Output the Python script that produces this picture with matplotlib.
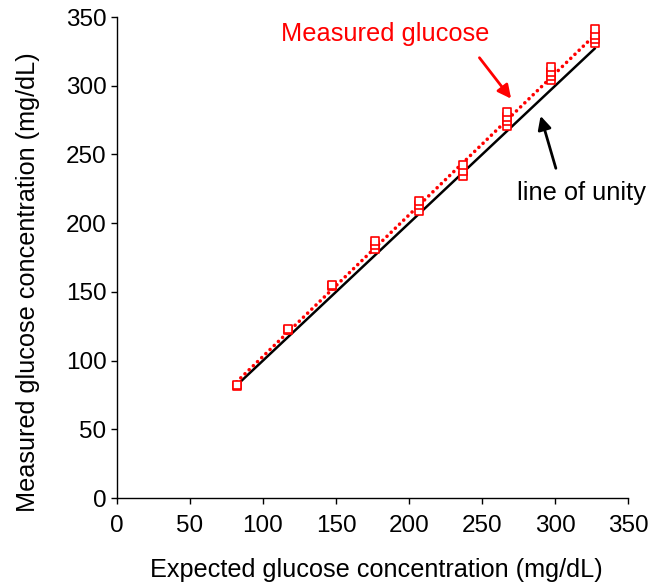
import matplotlib
matplotlib.use("Agg")
import matplotlib.pyplot as plt
import numpy as np

plt.rcParams['font.family'] = ['Liberation Sans', 'DejaVu Sans']

expected = [82, 82, 117, 117, 147, 147, 177, 177, 177, 207, 207, 207,
            237, 237, 237, 267, 267, 267, 267, 297, 297, 297, 297,
            327, 327, 327, 327]
measured = [81.5, 82, 122, 123, 154, 155, 181, 184, 187, 209, 213, 216,
            234, 238, 242, 271, 274, 277, 281, 304, 307, 310, 314,
            331, 334, 337, 341]
unity_x = [82, 327]
xticks = [0, 50, 100, 150, 200, 250, 300, 350]
yticks = [0, 50, 100, 150, 200, 250, 300, 350]

fig = plt.figure(figsize=(6.49, 5.88), dpi=100)
ax = fig.add_axes([0.180, 0.153, 0.788, 0.818])

ax.plot(unity_x, unity_x, color='black', lw=1.8, zorder=2)
coef = np.polyfit(expected, measured, 1)
fx = np.array([82, 330])
ax.plot(fx, np.polyval(coef, fx), color='#ff0000', lw=2.6, ls=(0, (0.01, 1.6)),
        dash_capstyle='round', zorder=3)
ax.scatter(expected, measured, marker='s', s=30, facecolors='white',
           edgecolors='#ff0000', linewidths=1.2, zorder=4)

ax.set_xlim(0, 350)
ax.set_ylim(0, 350)
ax.set_xticks(xticks)
ax.set_yticks(yticks)
ax.tick_params(axis='both', labelsize=17.5, direction='out', length=4.5, width=1,
               color='black')
ax.tick_params(axis='x', pad=8)
ax.tick_params(axis='y', pad=3)
for s in ['top', 'right']:
    ax.spines[s].set_visible(False)
for s in ['left', 'bottom']:
    ax.spines[s].set_linewidth(1)
ax.set_xlabel('Expected glucose concentration (mg/dL)', fontsize=18.2)
ax.set_ylabel('Measured glucose concentration (mg/dL)', fontsize=18.2)
ax.xaxis.set_label_coords(0.508, -0.15)
ax.yaxis.set_label_coords(-0.174, 0.449)
ax.xaxis.label.set_va('center')
ax.yaxis.label.set_va('center')

ax.text(184, 338, 'Measured glucose', color='#ff0000', fontsize=18.3,
        ha='center', va='center')
ax.annotate('', xy=(271, 289), xytext=(247, 322),
            arrowprops=dict(arrowstyle='-|>,head_length=0.8,head_width=0.4',
                            color='#ff0000', lw=2))
ax.text(318, 222, 'line of unity', color='black', fontsize=18.3,
        ha='center', va='center', clip_on=False)
ax.annotate('', xy=(289.5, 280), xytext=(301, 238),
            arrowprops=dict(arrowstyle='-|>,head_length=0.8,head_width=0.4',
                            color='black', lw=2))

fig.savefig('out.png', dpi=100)
